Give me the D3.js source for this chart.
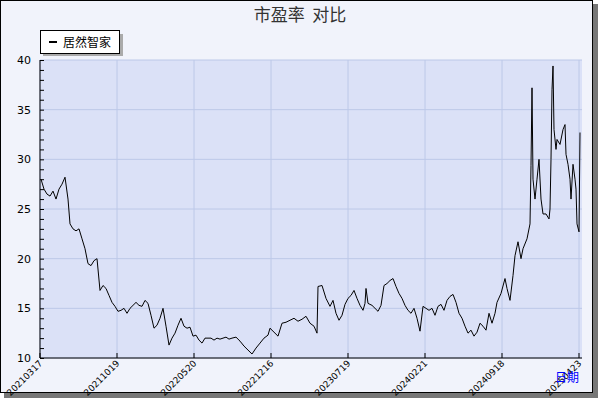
<!DOCTYPE html><html><head><meta charset="utf-8"><script src="https://cdn.jsdelivr.net/npm/d3@7"></script>
<style>body{margin:0;background:#fff}</style></head><body><svg id="c" width="600" height="400"></svg><script>
const title="市盈率  对比";
const seriesName="居然智家";
const tickDays=[0,154,308,462,616,770,924,1078];
const tickLabels=["20210317","20211019","20220520","20221216","20230719","20240221","20240918","20250423"];
const yTicks=[10,15,20,25,30,35,40];
// [trading-day index, PE]
const data=[[2,28],[8,27],[14,26.5],[20,26.3],[26,26.8],[32,26],[38,27],[44,27.5],[50,28.2],[56,26],[60,23.5],[66,23],[72,22.8],[78,23],[84,22],[90,21],[96,19.5],[102,19.3],[108,19.8],[114,20],[120,16.8],[126,17.3],[132,17],[138,16.3],[144,15.6],[150,15.2],[156,14.7],[162,14.8],[168,15],[174,14.5],[180,15],[186,15.3],[192,15.6],[198,15.3],[204,15.2],[210,15.8],[216,15.5],[222,14.3],[228,13],[234,13.3],[240,14],[246,15],[252,13.2],[258,11.3],[264,12],[270,12.5],[276,13.3],[282,14],[288,13.2],[294,13],[300,13.1],[306,12.2],[312,12.3],[318,11.8],[324,11.5],[330,12],[336,12],[342,12],[348,11.8],[354,12],[360,11.9],[366,12],[372,12.1],[378,11.9],[384,12],[392,12.1],[400,11.7],[408,11.2],[416,10.8],[424,10.4],[432,11],[440,11.5],[448,12],[456,12.3],[460,13],[468,12.6],[476,12.2],[484,13.5],[492,13.6],[500,13.8],[508,14],[516,13.7],[524,13.9],[532,14.2],[540,13.5],[548,13.2],[554,12.5],[556,17.2],[564,17.3],[572,16],[580,15.2],[586,15.8],[592,14.5],[598,13.8],[604,14.3],[610,15.4],[616,16],[622,16.3],[628,16.8],[634,16],[640,15.3],[646,14.8],[650,15.5],[652,17],[656,15.5],[664,15.3],[670,15],[676,14.7],[682,15.3],[688,17.3],[694,17.5],[700,17.8],[706,18],[712,17.2],[718,16.5],[724,16],[730,15.3],[736,14.8],[742,14.5],[748,15],[754,14],[760,12.7],[766,15.2],[772,15],[778,14.8],[784,15],[790,14.3],[796,15.2],[802,15.4],[808,14.8],[814,15.8],[820,16.2],[826,16.4],[832,15.6],[838,14.5],[844,14],[850,13.2],[856,12.5],[862,12.8],[868,12.2],[874,12.6],[880,13.5],[886,13.2],[892,12.8],[898,14.5],[904,13.5],[910,14.5],[914,15.6],[922,16.5],[930,18],[934,17],[940,15.8],[946,18.3],[950,20.3],[956,21.7],[962,20],[966,21],[974,22],[980,23.5],[982,29.4],[984,37.2],[986,28],[990,26],[994,28],[998,30],[1002,26],[1006,24.5],[1012,24.5],[1018,24],[1020,25],[1022,30],[1024,37],[1026,39.4],[1028,33],[1032,31],[1034,32],[1040,31.5],[1046,33],[1050,33.5],[1052,30.5],[1056,29.5],[1060,28],[1062,26],[1066,29.5],[1070,28],[1072,27],[1074,23.5],[1078,22.7],[1080,32.7]];

const svg=d3.select("#c");
svg.append("rect").attr("x",4).attr("y",4).attr("width",594).attr("height",394).attr("fill","#777");
svg.append("rect").attr("x",0.5).attr("y",0.5).attr("width",592).attr("height",392).attr("fill","#f1f3fb").attr("stroke","#000");
const L=40,R=582,T=60,B=358;
const x=d3.scaleLinear().domain([0,1084]).range([L,R]);
const y=d3.scaleLinear().domain([10,40]).range([B,T]);
svg.append("rect").attr("x",L).attr("y",T).attr("width",R-L).attr("height",B-T).attr("fill","#dbe1f7");
const g=svg.append("g");
yTicks.forEach(v=>g.append("line").attr("x1",L).attr("x2",R).attr("y1",y(v)).attr("y2",y(v)).attr("stroke","#bcc8e8"));
tickDays.forEach(d=>g.append("line").attr("x1",x(d)).attr("x2",x(d)).attr("y1",T).attr("y2",B).attr("stroke","#bcc8e8"));
const ya=svg.append("g").attr("transform",`translate(${L},0)`).call(d3.axisLeft(y).tickValues(d3.range(10,41,1)).tickSize(-4).tickFormat(""));
ya.select(".domain").remove();ya.selectAll("line").attr("stroke","#000");
svg.append("line").attr("x1",L).attr("x2",L).attr("y1",T).attr("y2",B).attr("stroke","#000");
yTicks.forEach(v=>svg.append("text").attr("x",31).attr("y",y(v)+4).attr("text-anchor","end").attr("font-family","DejaVu Sans").attr("font-size",11).text(v));
svg.append("line").attr("x1",L).attr("x2",R).attr("y1",B).attr("y2",B).attr("stroke","#000");
tickDays.forEach((d,i)=>{svg.append("line").attr("x1",x(d)).attr("x2",x(d)).attr("y1",B).attr("y2",B-5).attr("stroke","#000");
 svg.append("text").attr("transform",`translate(${x(d)+3},${B+6}) rotate(-45)`).attr("text-anchor","end").attr("font-family","DejaVu Sans").attr("font-size",9).text(tickLabels[i]);});
svg.append("text").attr("x",567).attr("y",382).attr("text-anchor","middle").attr("fill","#0000ff").attr("font-family","Noto Sans CJK SC").attr("font-size",12).text("日期");
svg.append("path").datum(data).attr("d",d3.line().x(d=>x(d[0])).y(d=>y(d[1]))).attr("fill","none").attr("stroke","#000").attr("stroke-width",1);
svg.append("text").attr("x",300).attr("y",21).attr("text-anchor","middle").attr("font-family","Noto Sans CJK SC").attr("font-size",17).attr("fill","#333").attr("xml:space","preserve").style("white-space","pre").text(title);
svg.append("rect").attr("x",43).attr("y",34).attr("width",80).attr("height",22).attr("fill","#aaa");
svg.append("rect").attr("x",40.5).attr("y",30.5).attr("width",79).attr("height",23).attr("fill","#fff").attr("stroke","#000");
svg.append("line").attr("x1",49).attr("x2",57).attr("y1",42).attr("y2",42).attr("stroke","#000").attr("stroke-width",2);
svg.append("text").attr("x",63).attr("y",47).attr("font-family","Noto Sans CJK SC").attr("font-size",12).text(seriesName);
</script></body></html>
